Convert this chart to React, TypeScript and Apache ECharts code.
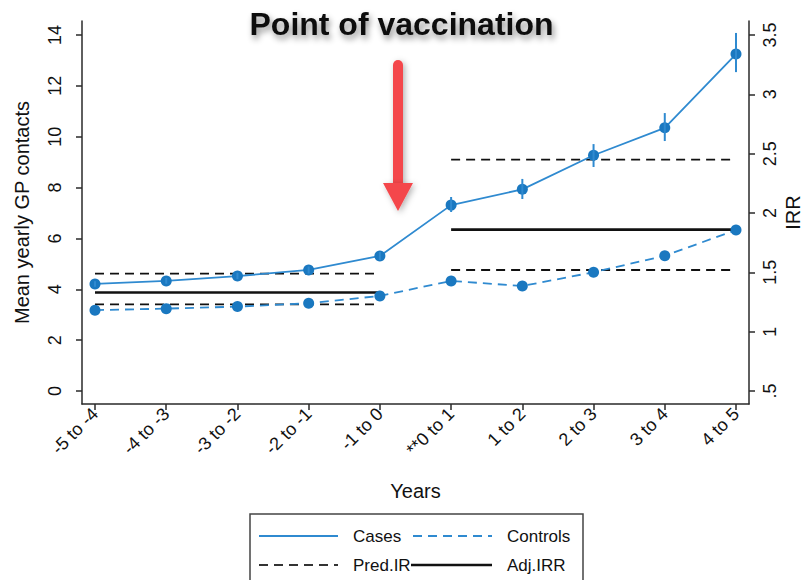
import React, { useEffect, useRef } from "react";
import * as echarts from "echarts";

// Year bands around the point of vaccination
const categories = [
  "-5 to -4", "-4 to -3", "-3 to -2", "-2 to -1", "-1 to 0",
  "**0 to 1", "1 to 2", "2 to 3", "3 to 4", "4 to 5",
];

// Mean yearly GP contacts (left axis)
const casesMean = [4.21, 4.33, 4.52, 4.76, 5.31, 7.31, 7.93, 9.27, 10.35, 13.25];
const casesLow = [4.1, 4.22, 4.4, 4.62, 5.15, 7.04, 7.55, 8.81, 9.83, 12.54];
const casesHigh = [4.32, 4.45, 4.65, 4.9, 5.47, 7.63, 8.34, 9.71, 10.93, 14.08];
const controlsMean = [3.18, 3.24, 3.32, 3.45, 3.74, 4.33, 4.13, 4.67, 5.32, 6.33];

// IRR estimates per period (right axis)
const periodStart = [0, 5];
const periodEnd = [4, 9];
const predIrUpper = [1.49, 2.45];
const predIrLower = [1.23, 1.52];
const adjIrr = [1.33, 1.86];

// Tick values
const leftTicks = [0, 2, 4, 6, 8, 10, 12, 14];
const rightTicks = [0.5, 1, 1.5, 2, 2.5, 3, 3.5];
const xTicks = categories.map((_, i) => i);

const BLUE_LINE = "#2f8ad0";
const BLUE_MARK = "#1a78c0";
const AXIS = "#2a2a2a";
const FONT = "'Liberation Sans', Arial, Helvetica, sans-serif";

// left axis range; right axis is tied to it so that 0 <-> .5 and 14 <-> 3.5
const LEFT_MIN = -0.51;
const LEFT_MAX = 14.55;
const toRight = (v: number) => 0.5 + (v * 3) / 14;

function periodLine(vals: number[], name: string, dashed: boolean, width: number) {
  return vals.map((v, i) => ({
    name,
    type: "line",
    yAxisIndex: 1,
    data: [
      [periodStart[i], v],
      [periodEnd[i], v],
    ],
    symbol: "none",
    lineStyle: {
      color: "#111",
      width,
      type: dashed ? [9, 6] : "solid",
    },
    z: 2,
    silent: true,
  }));
}

export default function App() {
  const ref = useRef<HTMLDivElement>(null);

  useEffect(() => {
    if (!ref.current) return;
    const chart = echarts.init(ref.current, undefined, { renderer: "svg" });

    const axisLine = { show: true, onZero: false, lineStyle: { color: AXIS, width: 1.5 } };

    const option: any = {
      animation: false,
      backgroundColor: "#fff",
      textStyle: { fontFamily: FONT },
      grid: {
        left: 82,
        right: 54,
        top: 21,
        bottom: 176,
        containLabel: false,
        outerBoundsMode: "none",
      },
      xAxis: {
        type: "value",
        min: -0.1825,
        max: 9.1825,
        name: "Years",
        nameLocation: "middle",
        nameMoveOverlap: false,
        nameGap: 77,
        nameTextStyle: { fontSize: 20, color: "#111", fontFamily: FONT },
        axisLine,
        axisTick: { show: true, length: 6, customValues: xTicks, lineStyle: { color: AXIS, width: 1.5 } },
        axisLabel: {
          customValues: xTicks,
          rotate: 45,
          fontSize: 18,
          color: "#111",
          margin: 7,
          fontFamily: FONT,
          formatter: (v: number) => categories[Math.round(v)] ?? "",
        },
        splitLine: { show: false },
      },
      yAxis: [
        {
          type: "value",
          min: LEFT_MIN,
          max: LEFT_MAX,
          position: "left",
          name: "Mean yearly GP contacts",
          nameLocation: "middle",
          nameMoveOverlap: false,
          nameRotate: 90,
          nameGap: 50,
          nameTextStyle: { fontSize: 20, color: "#111", fontFamily: FONT },
          axisLine,
          axisTick: { show: true, length: 6, customValues: leftTicks, lineStyle: { color: AXIS, width: 1.5 } },
          axisLabel: {
            customValues: leftTicks,
            rotate: 90,
            fontSize: 18,
            color: "#111",
            margin: 18,
            fontFamily: FONT,
          },
          splitLine: { show: false },
        },
        {
          type: "value",
          min: toRight(LEFT_MIN),
          max: toRight(LEFT_MAX),
          position: "right",
          name: "IRR",
          nameLocation: "middle",
          nameMoveOverlap: false,
          nameRotate: 90,
          nameGap: 34,
          nameTextStyle: { fontSize: 20, color: "#111", fontFamily: FONT },
          axisLine,
          axisTick: { show: true, length: 6, customValues: rightTicks, lineStyle: { color: AXIS, width: 1.5 } },
          axisLabel: {
            customValues: rightTicks,
            rotate: 90,
            fontSize: 18,
            color: "#111",
            margin: 12,
            fontFamily: FONT,
            formatter: (v: number) => (v === 0.5 ? ".5" : String(v)),
          },
          splitLine: { show: false },
        },
      ],
      series: [
        ...periodLine(predIrUpper, "Pred.IR", true, 1.8),
        ...periodLine(predIrLower, "Pred.IR", true, 1.8),
        ...periodLine(adjIrr, "Adj.IRR", false, 2.6),
        {
          name: "Controls",
          type: "line",
          yAxisIndex: 0,
          data: controlsMean.map((v, i) => [i, v]),
          symbol: "circle",
          symbolSize: 11,
          itemStyle: { color: BLUE_MARK },
          lineStyle: { color: BLUE_LINE, width: 1.8, type: [9, 6] },
          z: 3,
        },
        {
          name: "Cases",
          type: "line",
          yAxisIndex: 0,
          data: casesMean.map((v, i) => [i, v]),
          symbol: "circle",
          symbolSize: 11,
          itemStyle: { color: BLUE_MARK },
          lineStyle: { color: BLUE_LINE, width: 1.8 },
          z: 3,
        },
        {
          name: "Cases CI",
          type: "custom",
          yAxisIndex: 0,
          data: casesLow.map((lo, i) => [i, lo, casesHigh[i]]),
          encode: { x: 0, y: [1, 2] },
          renderItem: (params: any, api: any) => {
            const x = api.value(0);
            const p1 = api.coord([x, api.value(1)]);
            const p2 = api.coord([x, api.value(2)]);
            return {
              type: "line",
              shape: { x1: p1[0], y1: p1[1], x2: p2[0], y2: p2[1] },
              style: { stroke: BLUE_LINE, lineWidth: 2 },
            };
          },
          z: 4,
        },
      ],
      graphic: [
        // headline
        {
          type: "text",
          left: "center",
          top: 8,
          style: {
            text: "Point of vaccination",
            font: `bold 32px ${FONT}`,
            fill: "#111",
            textShadowColor: "rgba(0,0,0,0.45)",
            textShadowBlur: 6,
            textShadowOffsetX: 2,
            textShadowOffsetY: 4,
          },
          z: 10,
        },
        // red arrow pointing at the vaccination year
        {
          type: "group",
          z: 10,
          children: [
            {
              type: "rect",
              shape: { x: 393, y: 60, width: 10, height: 126, r: [5, 5, 0, 0] },
              style: {
                fill: "#f4474b",
                shadowBlur: 6,
                shadowColor: "rgba(0,0,0,0.3)",
                shadowOffsetX: 2,
                shadowOffsetY: 2,
              },
            },
            {
              type: "polygon",
              shape: { points: [[383, 183], [413, 183], [398, 211]] },
              style: {
                fill: "#f4474b",
                shadowBlur: 6,
                shadowColor: "rgba(0,0,0,0.3)",
                shadowOffsetX: 2,
                shadowOffsetY: 2,
              },
            },
          ],
        },
        // legend box
        {
          type: "group",
          z: 10,
          children: [
            {
              type: "rect",
              shape: { x: 250, y: 514, width: 333, height: 80 },
              style: { fill: "#fff", stroke: "#444", lineWidth: 1.5 },
            },
            {
              type: "line",
              shape: { x1: 259, y1: 536, x2: 338, y2: 536 },
              style: { stroke: BLUE_LINE, lineWidth: 2 },
            },
            {
              type: "text",
              x: 353,
              y: 536,
              style: { text: "Cases", font: `17px ${FONT}`, fill: "#111", verticalAlign: "middle" },
            },
            {
              type: "line",
              shape: { x1: 413, y1: 536, x2: 492, y2: 536 },
              style: { stroke: BLUE_LINE, lineWidth: 2, lineDash: [9, 6] },
            },
            {
              type: "text",
              x: 507,
              y: 536,
              style: { text: "Controls", font: `17px ${FONT}`, fill: "#111", verticalAlign: "middle" },
            },
            {
              type: "line",
              shape: { x1: 259, y1: 565, x2: 338, y2: 565 },
              style: { stroke: "#333", lineWidth: 2, lineDash: [9, 6] },
            },
            {
              type: "text",
              x: 353,
              y: 565,
              style: { text: "Pred.IR", font: `17px ${FONT}`, fill: "#111", verticalAlign: "middle" },
            },
            {
              type: "line",
              shape: { x1: 411, y1: 565, x2: 492, y2: 565 },
              style: { stroke: "#111", lineWidth: 2.6 },
            },
            {
              type: "text",
              x: 507,
              y: 565,
              style: { text: "Adj.IRR", font: `17px ${FONT}`, fill: "#111", verticalAlign: "middle" },
            },
          ],
        },
      ],
    };

    chart.setOption(option);
    return () => chart.dispose();
  }, []);

  return (
    <div
      ref={ref}
      style={{ position: "fixed", left: 0, top: 0, width: 803, height: 580, background: "#fff" }}
    />
  );
}
